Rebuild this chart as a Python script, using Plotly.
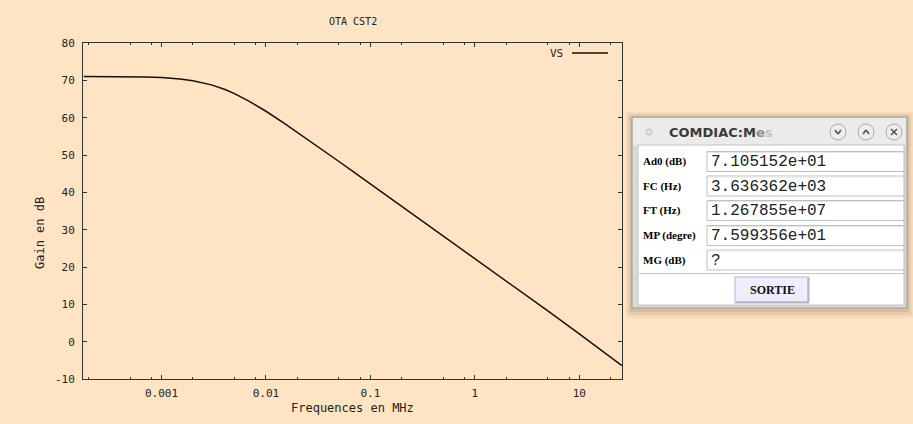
import plotly.graph_objects as go

# ---------------- data ----------------
freq_mhz = [0.00018, 0.0003, 0.0005, 0.0007, 0.001, 0.0015, 0.002, 0.003, 0.004,
            0.005, 0.007, 0.01, 0.015, 0.02, 0.03, 0.05, 0.07, 0.1, 0.2, 0.5,
            1, 2, 5, 10, 15, 20, 25.6]
gain_db = [71.04, 71.02, 70.97, 70.89, 70.73, 70.37, 69.90, 68.79, 67.61,
           66.44, 64.32, 61.72, 58.49, 56.10, 52.66, 48.26, 45.35, 42.26, 36.24, 28.28,
           22.26, 16.23, 8.24, 2.10, -1.62, -4.38, -6.4]

x_tick_vals = [0.001, 0.01, 0.1, 1, 10]
x_tick_text = ["0.001", "0.01", "0.1", "1", "10"]
x_minor_vals = [0.0002, 0.0005, 0.0008, 0.002, 0.005, 0.008, 0.02, 0.05, 0.08,
                0.2, 0.5, 0.8, 2, 5, 8, 20]
y_tick_vals = [-10, 0, 10, 20, 30, 40, 50, 60, 70, 80]
y_tick_text = ["-10", "0", "10", "20", "30", "40", "50", "60", "70", "80"]

series_name = "VS"
chart_title = "OTA CST2"
x_title = "Frequences en MHz"
y_title = "Gain en dB"

dialog_title = "COMDIAC:Mes"
meas_labels = ["Ad0 (dB)", "FC (Hz)", "FT (Hz)", "MP (degre)", "MG (dB)"]
meas_values = ["7.105152e+01", "3.636362e+03", "1.267855e+07", "7.599356e+01", "?"]
button_label = "SORTIE"

# ---------------- layout helpers ----------------
W, H = 913, 424
L, R, T, B = 83, 622, 43, 379
BG = "#FFE4C4"
INK = "#222222"
MONO = "DejaVu Sans Mono"


def px(x):
    return (x - L) / (R - L)


def py(y):
    return (B - y) / (B - T)


shapes = []
annots = []


def rect(x0, y0, x1, y1, fill, line=None, lw=1):
    shapes.append(dict(type="rect", xref="paper", yref="paper",
                       x0=px(x0), x1=px(x1), y0=py(y1), y1=py(y0),
                       fillcolor=fill, layer="above",
                       line=dict(color=line if line else fill, width=lw if line else 0)))


def seg(x0, y0, x1, y1, color, lw=1):
    shapes.append(dict(type="line", xref="paper", yref="paper",
                       x0=px(x0), x1=px(x1), y0=py(y0), y1=py(y1), layer="above",
                       line=dict(color=color, width=lw)))


def circ(cx, cy, r, fill, line, lw=1):
    shapes.append(dict(type="circle", xref="paper", yref="paper",
                       x0=px(cx - r), x1=px(cx + r), y0=py(cy + r), y1=py(cy - r),
                       fillcolor=fill, layer="above", line=dict(color=line, width=lw)))


def text(x, y, s, size, family, color="#000", xanchor="left", angle=0):
    annots.append(dict(xref="paper", yref="paper", x=px(x), y=py(y), text=s,
                       showarrow=False, xanchor=xanchor, yanchor="middle",
                       textangle=angle, font=dict(size=size, family=family, color=color)))


fig = go.Figure()
fig.add_trace(go.Scatter(x=freq_mhz, y=gain_db, mode="lines", name=series_name,
                         line=dict(color="#111111", width=1.5), showlegend=False))

# gnuplot texts
text(353, 21, chart_title, 10, MONO, INK, "center")
text(352, 408, x_title, 12, MONO, INK, "center")
text(40, 233, y_title, 12, MONO, INK, "center", angle=-90)
# legend (text left, sample right, gnuplot style)
text(565, 53, series_name, 11, MONO, INK, "right")
seg(572, 53, 608, 53, "#111111", 1.4)

# ---------------- dialog window ----------------
rect(626, 112, 913, 318, "rgba(60,30,0,0.05)")
rect(628, 114, 911, 315, "rgba(60,30,0,0.07)")
rect(630, 116, 909, 312, "rgba(60,30,0,0.09)")
rect(632, 117, 907, 308, "#d9d9d9", "#9a9a9a", 1)
rect(633, 118, 906, 145, "#ebebeb")
rect(638, 145, 904, 305, "#ffffff", "#c4c4c4", 1)

circ(649, 132, 3, "#e4e4e4", "#bdbdbd")
annots.append(dict(xref="paper", yref="paper", x=px(667), y=py(132),
                   text="<b>COMDIAC:M<span style='color:#8e8e8e'>e</span>"
                        "<span style='color:#c2c2c2'>s</span></b>",
                   showarrow=False, xanchor="left", yanchor="middle",
                   font=dict(size=13, family="DejaVu Sans", color="#3b3b3b")))
for cx in (838, 866, 894):
    circ(cx, 132, 8, "#ededed", "#a9a9a9")
# chevron down, chevron up, cross
seg(835, 130, 838, 134, "#555", 1.5)
seg(838, 134, 841, 130, "#555", 1.5)
seg(863, 134, 866, 130, "#555", 1.5)
seg(866, 130, 869, 134, "#555", 1.5)
seg(891, 129, 897, 135, "#555", 1.5)
seg(891, 135, 897, 129, "#555", 1.5)

row_tops = [151.5, 176, 200.5, 225.5, 250]
for top, lab, val in zip(row_tops, meas_labels, meas_values):
    rect(707, top, 904, top + 20, "#ffffff", "#bfbfbf", 1)
    seg(708, top + 1, 903, top + 1, "#e6e6e6", 1)
    text(641, top + 10, "<b>" + lab + "</b>", 11, "Liberation Serif", "#000")
    text(709, top + 10.5, val, 16, "Liberation Mono", "#222")

seg(639, 273.5, 904, 273.5, "#c8c8c8", 1)
rect(735, 277, 809, 303, "#ededfc", "#b5b5c8", 1)
seg(736, 302, 808, 302, "#9a9aa8", 1)
seg(808, 278, 808, 302, "#9a9aa8", 1)
text(772, 290, "<b>" + button_label + "</b>", 12, "Liberation Serif", "#111", "center")

axis_common = dict(showline=True, linecolor="#333333", linewidth=1, mirror="ticks",
                   ticks="inside", ticklen=4, tickcolor="#333333", tickwidth=1,
                   showgrid=False, zeroline=False,
                   tickfont=dict(family=MONO, size=11, color=INK))

fig.update_layout(
    width=W, height=H,
    margin=dict(l=L, r=W - R, t=T, b=H - B, pad=0),
    paper_bgcolor=BG, plot_bgcolor=BG,
    showlegend=False,
    shapes=shapes, annotations=annots,
    xaxis=dict(type="log", range=[-3.752, 1.409], tickmode="array",
               tickvals=x_tick_vals, ticktext=x_tick_text, ticklabelstandoff=4,
               minor=dict(tickmode="array", tickvals=x_minor_vals, ticks="inside",
                          ticklen=2, tickcolor="#333333", showgrid=False),
               **axis_common),
    yaxis=dict(range=[-10, 80], tickmode="array", tickvals=y_tick_vals,
               ticktext=y_tick_text, ticklabelstandoff=5, **axis_common),
)

fig.write_html("out.html")
